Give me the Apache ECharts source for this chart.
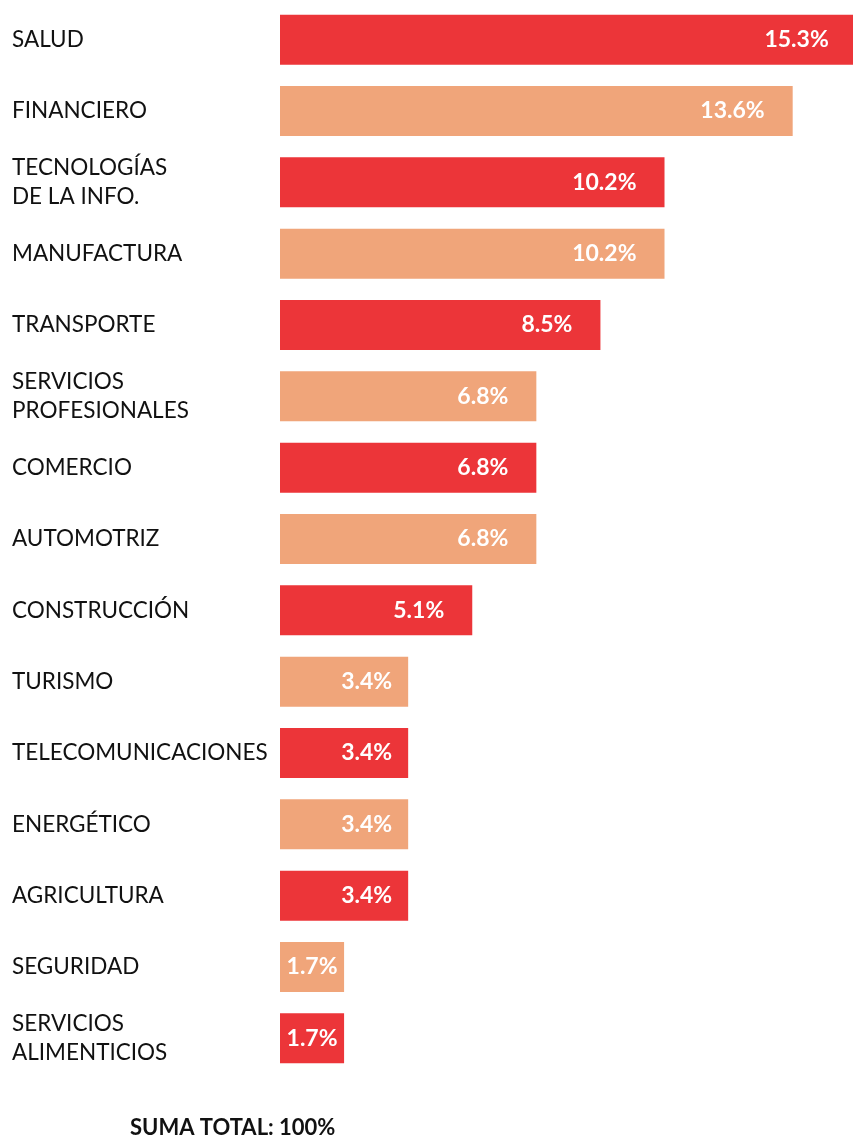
<!DOCTYPE html>
<html><head><meta charset="utf-8">
<script src="https://cdn.jsdelivr.net/npm/echarts@6/dist/echarts.min.js"></script>
<style>html,body{margin:0;padding:0;background:#fff}#c{width:853px;height:1138px}</style>
</head><body><div id="c"></div>
<script>
const categories = ["SALUD","FINANCIERO","TECNOLOGÍAS\nDE LA INFO.","MANUFACTURA","TRANSPORTE","SERVICIOS\nPROFESIONALES","COMERCIO","AUTOMOTRIZ","CONSTRUCCIÓN","TURISMO","TELECOMUNICACIONES","ENERGÉTICO","AGRICULTURA","SEGURIDAD","SERVICIOS\nALIMENTICIOS"];
const values = [15.3,13.6,10.2,10.2,8.5,6.8,6.8,6.8,5.1,3.4,3.4,3.4,3.4,1.7,1.7];
const totalText = "SUMA TOTAL: 100%";
const colors = ["#EC3539","#F0A57A"];
const font = "Lato, 'Noto Sans', sans-serif";

const chart = echarts.init(document.getElementById('c'), null, {renderer:'canvas'});
const data = values.map((v,i)=>({
  value: v,
  itemStyle:{color: colors[i%2]},
  label: v < 2 ? {position:'inside'} : {position:'insideRight', distance: v < 4 ? 16 : 28}
}));
chart.setOption({
  animation:false,
  grid:{left:280, right:0, top:4, height:1070, containLabel:false},
  xAxis:{type:'value', min:0, max:15.2, show:false},
  yAxis:{type:'category', inverse:true, data:categories,
    axisLine:{show:false}, axisTick:{show:false},
    axisLabel:{align:'left', margin:268, fontFamily:font, fontSize:22.5, color:'#111', lineHeight:29}},
  series:[{type:'bar', data:data, barWidth:50, clip:false,
    label:{show:true, color:'#fff', fontFamily:font, fontWeight:'bold', fontSize:23,
      formatter: p => p.value.toFixed(1) + '%'}}],
  graphic:[{type:'text', left:130, top:1117, style:{text:totalText, font:"bold 22px "+font, fill:'#111'}}]
});
</script></body></html>
